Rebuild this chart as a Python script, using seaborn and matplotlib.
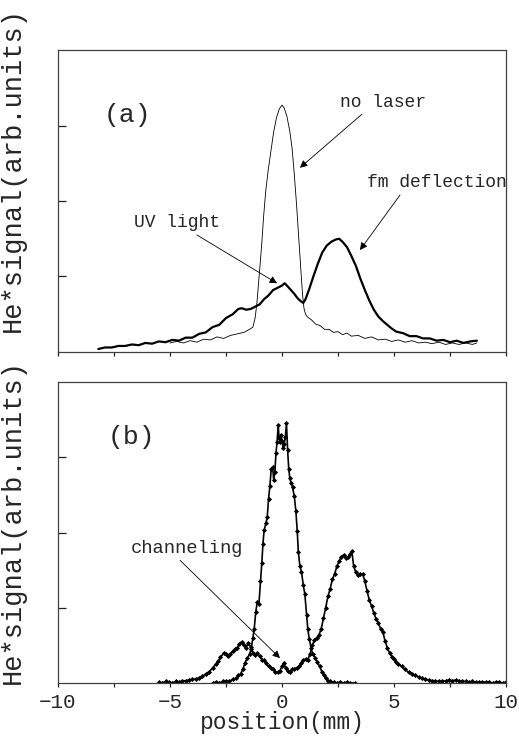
import matplotlib
matplotlib.use("Agg")
import matplotlib.pyplot as plt
import seaborn as sns
import pandas as pd

# ---------------- data ----------------
# panel (a): "no laser" (thin) curve
a_nolaser_x = [-5.0, -4.7, -4.4, -4.1, -3.8, -3.5, -3.2, -2.9, -2.6, -2.3, -2.0, -1.7, -1.45,
               -1.3, -1.2, -1.12, -1.05, -0.98, -0.9, -0.82, -0.72, -0.62, -0.5, -0.38, -0.25,
               -0.12, 0.0, 0.1, 0.22, 0.35, 0.45, 0.55, 0.65, 0.75, 0.85, 0.92, 0.98, 1.05, 1.15,
               1.3, 1.5, 1.7, 1.9, 2.1, 2.3, 2.5, 2.7, 2.9, 3.1, 3.4, 3.7, 4.0, 4.3, 4.6, 4.9,
               5.2, 5.5, 5.8, 6.1, 6.4, 6.7, 7.0, 7.3, 7.6, 7.9, 8.2, 8.5, 8.7]
a_nolaser_y = [0.12, 0.14, 0.12, 0.15, 0.13, 0.17, 0.16, 0.2, 0.18, 0.22, 0.24, 0.26, 0.3,
               0.33, 0.45, 0.65, 0.9, 1.15, 1.45, 1.8, 2.15, 2.4, 2.65, 2.9, 3.1,
               3.22, 3.27, 3.23, 3.12, 2.92, 2.7, 2.35, 1.95, 1.5, 1.05, 0.75, 0.58, 0.5, 0.46,
               0.43, 0.37, 0.35, 0.3, 0.3, 0.26, 0.27, 0.23, 0.25, 0.21, 0.22, 0.18, 0.2, 0.16, 0.17, 0.14,
               0.16, 0.13, 0.15, 0.12, 0.13, 0.11, 0.13, 0.1, 0.12, 0.1, 0.12, 0.1, 0.12]

# panel (a): UV light / fm deflection (thick) curve
a_fm_x = [-8.2, -7.9, -7.6, -7.3, -7.0, -6.7, -6.4, -6.1, -5.8, -5.5, -5.2, -4.9, -4.6, -4.3,
          -4.0, -3.7, -3.4, -3.1, -2.8, -2.5, -2.2, -1.95, -1.8, -1.6, -1.4, -1.2, -1.0, -0.8,
          -0.6, -0.4, -0.2, 0.0, 0.12, 0.25, 0.4, 0.55, 0.7, 0.85, 0.95, 1.05, 1.2, 1.4, 1.6,
          1.8, 2.0, 2.2, 2.4, 2.55, 2.7, 2.9, 3.1, 3.3, 3.5, 3.7, 3.9, 4.1, 4.3, 4.5, 4.7, 4.9,
          5.1, 5.4, 5.7, 6.0, 6.3, 6.6, 6.9, 7.2, 7.5, 7.8, 8.1, 8.4, 8.7]
a_fm_y = [0.04, 0.06, 0.06, 0.08, 0.08, 0.1, 0.09, 0.12, 0.11, 0.14, 0.13, 0.16, 0.15, 0.19,
          0.19, 0.24, 0.26, 0.33, 0.36, 0.45, 0.5, 0.57, 0.58, 0.56, 0.57, 0.6, 0.63, 0.7,
          0.75, 0.82, 0.85, 0.88, 0.91, 0.87, 0.82, 0.77, 0.71, 0.67, 0.65, 0.7, 0.82, 1.0, 1.17,
          1.32, 1.41, 1.46, 1.49, 1.5, 1.46, 1.39, 1.27, 1.14, 0.97, 0.82, 0.68, 0.56, 0.47, 0.41, 0.36, 0.31,
          0.27, 0.25, 0.21, 0.21, 0.18, 0.18, 0.15, 0.16, 0.13, 0.15, 0.12, 0.14, 0.15]

# panel (b): central (no laser) curve
b_center_x = [-3.1, -2.95, -2.8, -2.65, -2.5, -2.35, -2.2, -2.05, -1.95, -1.85, -1.75, -1.65,
              -1.55, -1.45, -1.38, -1.3, -1.24, -1.17, -1.1, -1.03, -0.96, -0.9, -0.85, -0.8,
              -0.72, -0.66, -0.6, -0.54, -0.48, -0.42, -0.37, -0.32, -0.27, -0.22, -0.17, -0.13,
              -0.08, -0.04, 0.0, 0.05, 0.1, 0.15, 0.2, 0.25, 0.3, 0.35, 0.4, 0.47, 0.55, 0.62,
              0.68, 0.73, 0.8, 0.87, 0.95, 1.02, 1.1, 1.15, 1.22, 1.3, 1.38, 1.48, 1.58, 1.68,
              1.78, 1.88, 1.96, 2.05, 2.15, 2.3, 2.45, 2.6, 2.75, 2.9, 3.05, 3.25]
b_center_y = [0.0, 0.01, 0.0, 0.02, 0.03, 0.02, 0.05, 0.06, 0.1, 0.12, 0.18, 0.27,
              0.33, 0.38, 0.45, 0.6, 0.72, 0.95, 1.08, 1.05, 1.35, 1.6, 1.85, 2.03,
              2.12, 2.2, 2.45, 2.62, 2.85, 2.87, 2.7, 2.8, 3.05, 3.2, 3.43, 3.25,
              3.2, 3.3, 3.22, 3.12, 3.18, 3.27, 3.45, 3.1, 2.85, 2.72, 2.66, 2.6, 2.48, 2.28,
              2.02, 1.74, 1.55, 1.48, 1.3, 1.18, 0.9, 0.72, 0.58, 0.46, 0.38, 0.33, 0.28, 0.22,
              0.15, 0.1, 0.06, 0.03, 0.02, 0.01, 0.0, 0.01, 0.0, 0.01, 0.0, 0.0]

# panel (b): channeling / deflected curve
b_chan_x = [-5.5, -5.35, -5.2, -5.05, -4.9, -4.75, -4.6, -4.45, -4.3, -4.15, -4.0, -3.85, -3.7,
            -3.55, -3.4, -3.25, -3.1, -2.95, -2.85, -2.75, -2.6, -2.5, -2.4, -2.3, -2.2, -2.1,
            -2.0, -1.9, -1.8, -1.7, -1.6, -1.5, -1.4, -1.3, -1.2, -1.1, -1.0, -0.9, -0.8, -0.7,
            -0.6, -0.5, -0.4, -0.3, -0.2, -0.1, 0.0, 0.08, 0.16, 0.25, 0.35, 0.45, 0.55, 0.65,
            0.75, 0.85, 0.95, 1.05, 1.15, 1.25, 1.35, 1.45, 1.55, 1.65, 1.75, 1.85, 1.95, 2.05,
            2.15, 2.25, 2.35, 2.45, 2.55, 2.65, 2.75, 2.85, 2.95, 3.05, 3.12, 3.2, 3.3, 3.4, 3.5,
            3.6, 3.7, 3.8, 3.9, 4.0, 4.1, 4.2, 4.3, 4.4, 4.5, 4.6, 4.7, 4.8, 4.9, 5.0, 5.1, 5.2,
            5.35, 5.5, 5.65, 5.8, 5.95, 6.1, 6.25, 6.4, 6.55, 6.7, 6.85, 7.0, 7.15, 7.3, 7.45,
            7.6, 7.75, 7.9, 8.05, 8.2, 8.35, 8.5, 8.65, 8.8, 8.95, 9.1, 9.25, 9.4, 9.55, 9.7,
            9.85, 10.0]
b_chan_y = [0.01, 0.0, 0.02, 0.01, 0.0, 0.02, 0.01, 0.03, 0.03, 0.04, 0.05, 0.05, 0.07,
            0.09, 0.12, 0.15, 0.2, 0.25, 0.29, 0.34, 0.4, 0.39, 0.36, 0.38, 0.42, 0.45,
            0.47, 0.52, 0.55, 0.5, 0.47, 0.53, 0.48, 0.4, 0.37, 0.4, 0.36, 0.31, 0.3, 0.26,
            0.22, 0.2, 0.18, 0.15, 0.14, 0.16, 0.22, 0.27, 0.2, 0.16, 0.14, 0.18, 0.19, 0.2,
            0.22, 0.26, 0.3, 0.32, 0.31, 0.38, 0.5, 0.57, 0.6, 0.64, 0.72, 0.86, 1.0, 1.15,
            1.25, 1.38, 1.45, 1.55, 1.62, 1.68, 1.7, 1.66, 1.67, 1.72, 1.75, 1.55, 1.47, 1.43, 1.45,
            1.45, 1.35, 1.22, 1.1, 1.02, 0.93, 0.85, 0.8, 0.72, 0.68, 0.56, 0.47, 0.4, 0.35, 0.32, 0.28, 0.25,
            0.22, 0.18, 0.14, 0.12, 0.1, 0.08, 0.06, 0.05, 0.04, 0.03, 0.03, 0.02, 0.02, 0.03, 0.04,
            0.03, 0.04, 0.03, 0.02, 0.02, 0.01, 0.02, 0.01, 0.01, 0.01, 0.01, 0.01, 0.0, 0.01, 0.01,
            0.0, 0.01]

x_tick_labels = ["\u221210", "\u22125", "0", "5", "10"]
x_label = "position(mm)"
y_label = "He*signal(arb.units)"

# ---------------- styling ----------------
sns.set_theme(style="white")
plt.rcParams["font.family"] = ["Liberation Mono", "DejaVu Sans Mono", "DejaVu Sans"]
plt.rcParams["axes.edgecolor"] = "#404040"
plt.rcParams["axes.linewidth"] = 0.9

fig = plt.figure(figsize=(5.19, 7.43), dpi=100)
ax_a = fig.add_axes([58 / 519, 1 - 352 / 743, 448 / 519, 302 / 743])
ax_b = fig.add_axes([58 / 519, 1 - 683 / 743, 448 / 519, 301 / 743])

df_a1 = pd.DataFrame({"x": a_nolaser_x, "y": a_nolaser_y})
df_a2 = pd.DataFrame({"x": a_fm_x, "y": a_fm_y})
df_b1 = pd.DataFrame({"x": b_center_x, "y": b_center_y})
df_b2 = pd.DataFrame({"x": b_chan_x, "y": b_chan_y})

sns.lineplot(data=df_a1, x="x", y="y", ax=ax_a, color="black", linewidth=0.6,
             sort=False, estimator=None)
sns.lineplot(data=df_a2, x="x", y="y", ax=ax_a, color="black", linewidth=1.6,
             sort=False, estimator=None)

sns.lineplot(data=df_b1, x="x", y="y", ax=ax_b, color="black", linewidth=1.2,
             marker="D", markersize=2.6, markeredgewidth=0, sort=False, estimator=None)
sns.lineplot(data=df_b2, x="x", y="y", ax=ax_b, color="black", linewidth=1.2,
             marker="D", markersize=2.6, markeredgewidth=0, sort=False, estimator=None)

major = [-10, -5, 0, 5, 10]
minor = [-7.5, -2.5, 2.5, 7.5]
for ax in (ax_a, ax_b):
    ax.set_xlim(-10, 10)
    ax.set_ylim(0, 4)
    ax.set_xlabel("")
    ax.set_ylabel("")
    ax.set_yticks([1, 2, 3])
    ax.set_yticklabels([])
    ax.tick_params(axis="y", direction="in", length=6, width=0.9, color="#202020", left=True)
    ax.set_xticks(major)
    ax.set_xticks(minor, minor=True)
    ax.tick_params(axis="x", which="both", direction="out", length=3, width=0.9,
                   color="#202020", bottom=True)
    for s in ax.spines.values():
        s.set_visible(True)
        s.set_color("#404040")

ax_a.set_xticklabels([])
ax_b.set_xticklabels(x_tick_labels, fontsize=15)
ax_b.tick_params(axis="x", pad=4)
fig.text(282 / 519, 1 - 722 / 743, x_label, fontsize=16.5, ha="center", va="center")

fig.text(13 / 519, 1 - 170 / 743, y_label, fontsize=19.5, rotation=90, ha="center", va="center")
fig.text(13 / 519, 1 - 522 / 743, y_label, fontsize=19.5, rotation=90, ha="center", va="center")

# panel labels
ax_a.text(-6.9, 3.14, "(a)", fontsize=19, ha="center", va="center")
ax_b.text(-6.7, 3.27, "(b)", fontsize=19, ha="center", va="center")

arrow = dict(arrowstyle="-|>", color="black", lw=0.6, mutation_scale=11,
             shrinkA=0, shrinkB=0)
ax_a.text(4.5, 3.31, "no laser", fontsize=13, ha="center", va="center")
ax_a.annotate("", xy=(0.8, 2.44), xytext=(3.57, 3.15), arrowprops=arrow)
ax_a.text(6.9, 2.24, "fm deflection", fontsize=13, ha="center", va="center")
ax_a.annotate("", xy=(3.48, 1.35), xytext=(5.27, 2.08), arrowprops=arrow)
ax_a.text(-4.7, 1.72, "UV light", fontsize=13, ha="center", va="center")
ax_a.annotate("", xy=(-0.22, 0.91), xytext=(-3.8, 1.55), arrowprops=arrow)

ax_b.text(-4.24, 1.79, "channeling", fontsize=13.5, ha="center", va="center")
ax_b.annotate("", xy=(-0.09, 0.33), xytext=(-4.55, 1.63), arrowprops=arrow)

fig.savefig("out.png", dpi=100, facecolor="white")
